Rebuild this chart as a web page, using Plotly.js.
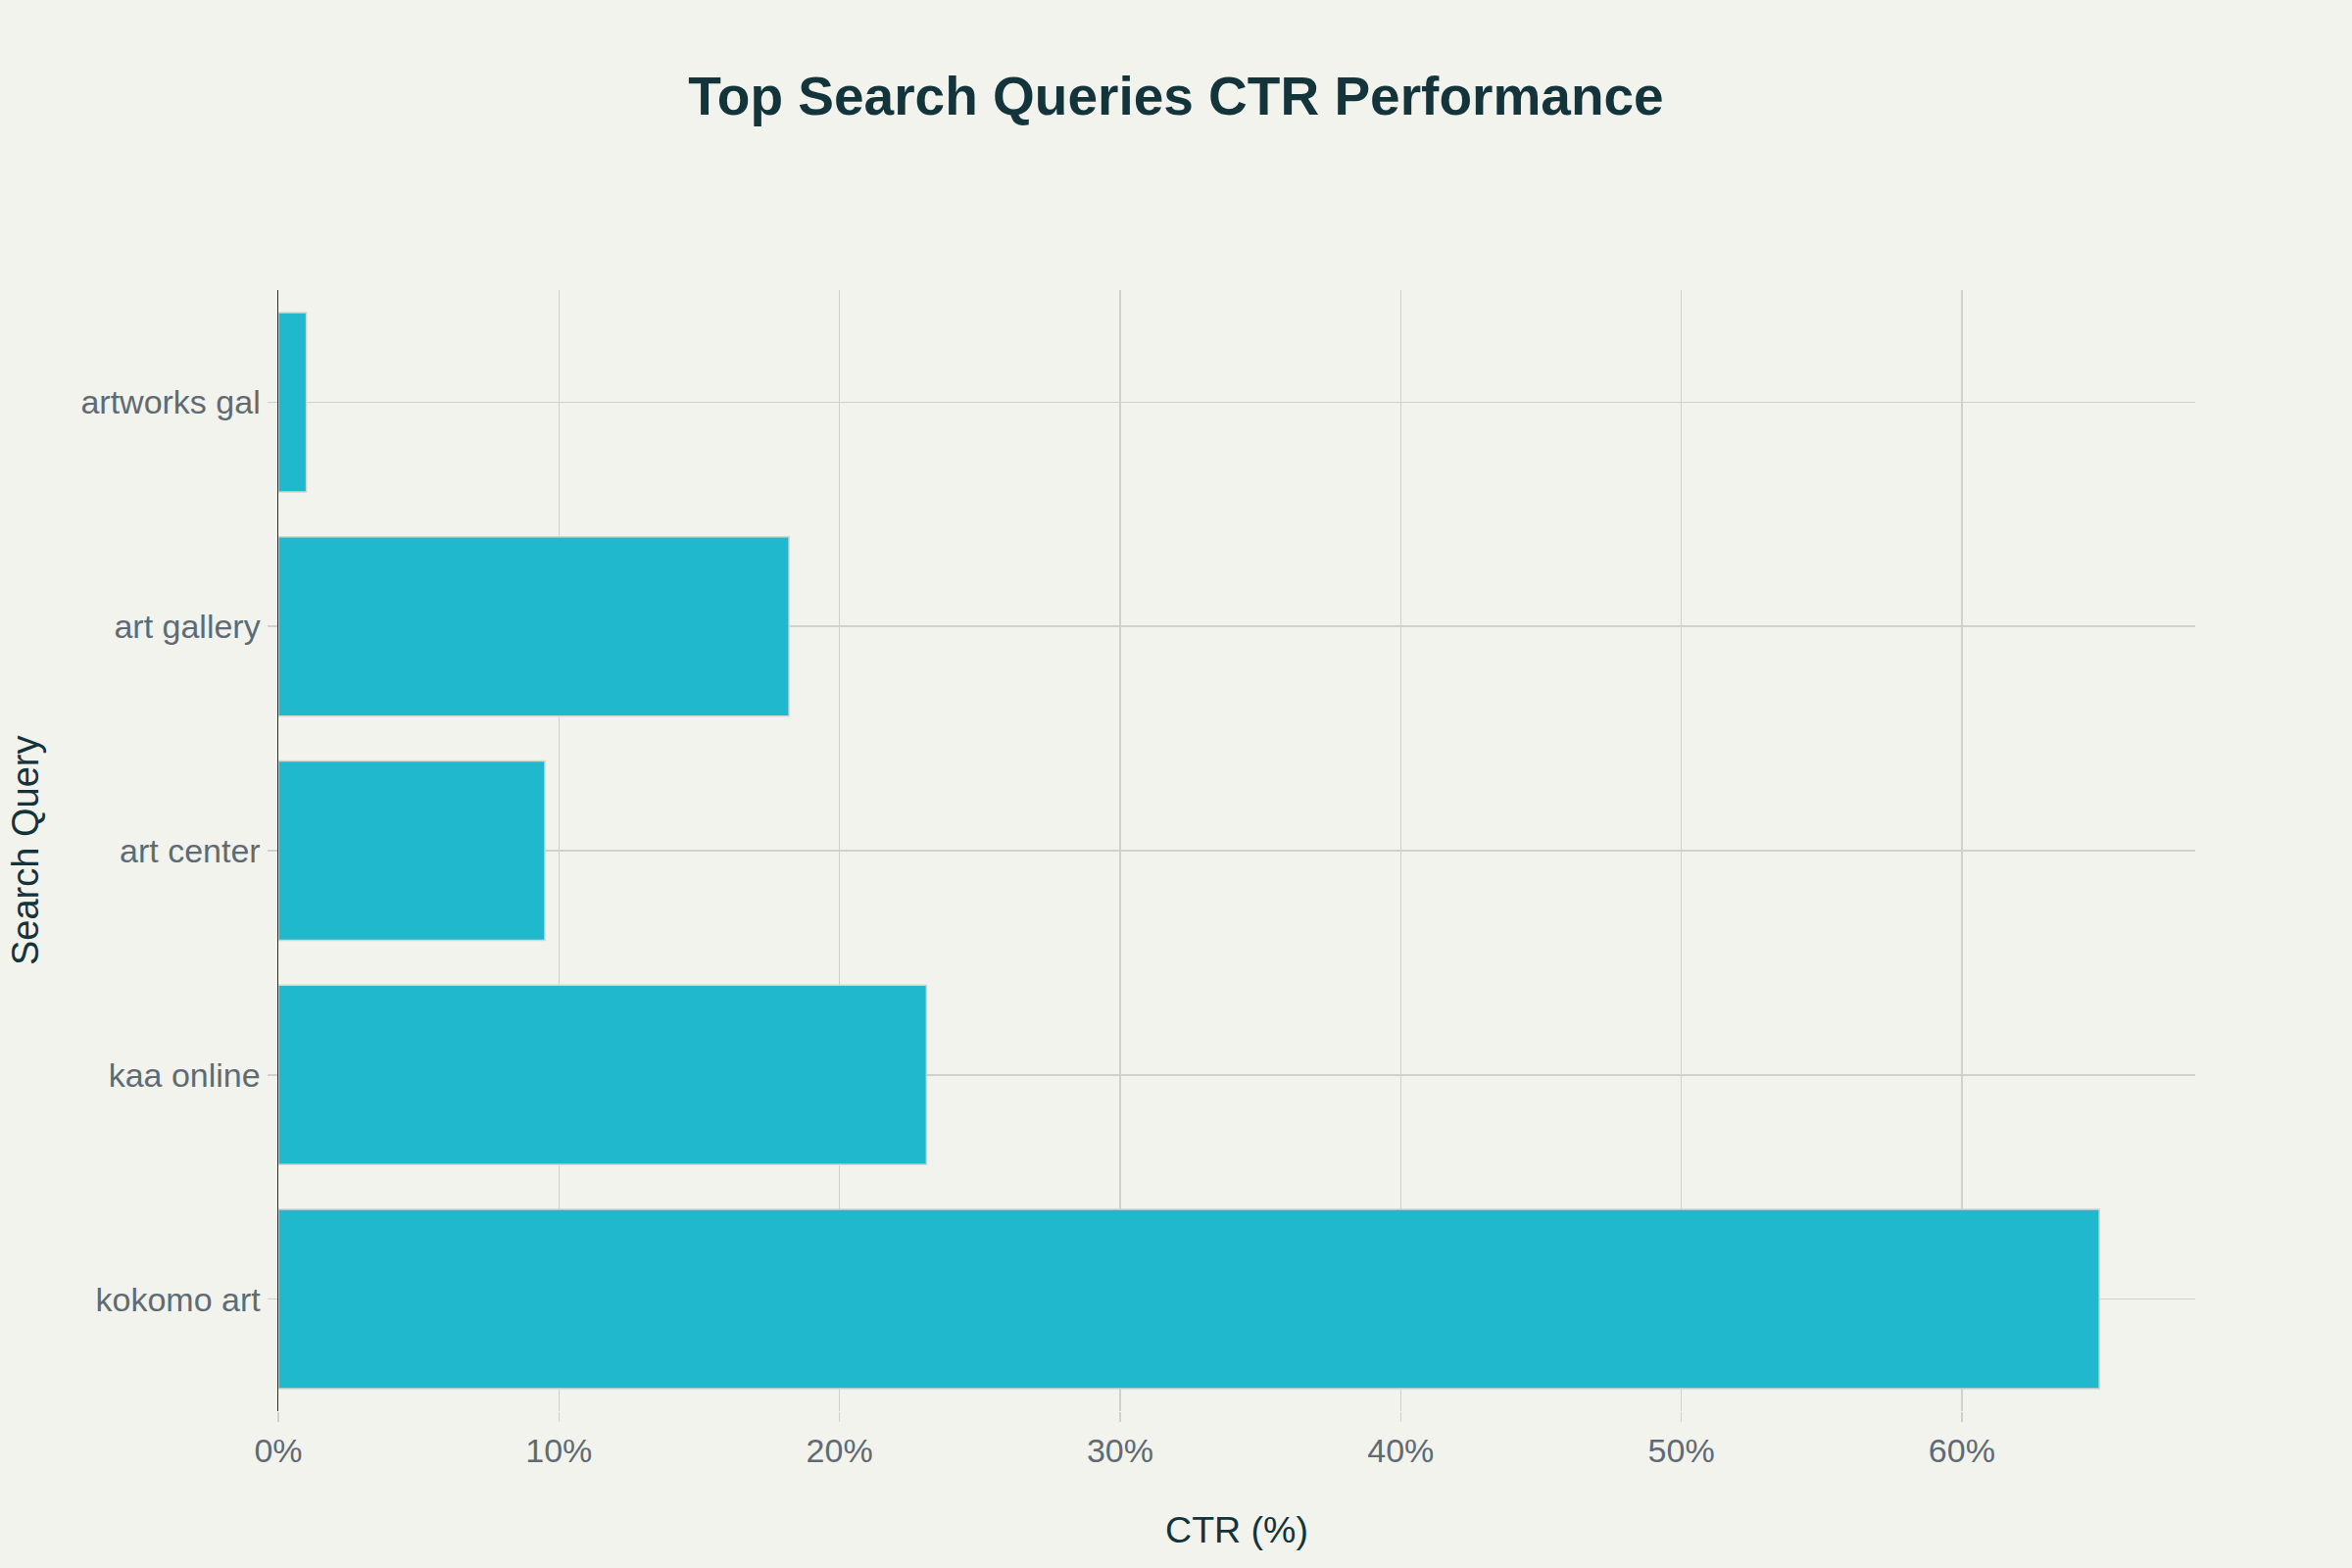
<!DOCTYPE html>
<html>
<head>
<meta charset="utf-8">
<script src="https://cdn.plot.ly/plotly-3.0.1.min.js"></script>
<style>
  html, body { margin: 0; padding: 0; background: #F3F3EE; }
  #chart { width: 2400px; height: 1600px; }
</style>
</head>
<body>
<div id="chart"></div>
<script>
// Data (bottom to top)
const queries = ["kokomo art", "kaa online", "art center", "art gallery", "artworks gal"];
const ctrValues = [64.9, 23.1, 9.5, 18.2, 1.0];

const chartTitle = "Top Search Queries CTR Performance";
const xTitle = "CTR (%)";
const yTitle = "Search Query";

const fontFamily = '"Liberation Sans", Arial, Helvetica, sans-serif';

const trace = {
  type: "bar",
  orientation: "h",
  x: ctrValues,
  y: queries,
  marker: {
    color: "#1FB8CD",
    line: { color: "#D5D5CF", width: 1.5 }
  },
  width: 0.8,
  hoverinfo: "x+y"
};

const layout = {
  width: 2400,
  height: 1600,
  paper_bgcolor: "#F3F3EE",
  plot_bgcolor: "#F3F3EE",
  margin: { l: 284, r: 160, t: 296, b: 160, pad: 0 },
  showlegend: false,
  font: { family: fontFamily, size: 34, color: "#5F6B73" },
  title: {
    text: "<b>" + chartTitle + "</b>",
    font: { family: fontFamily, size: 55, color: "#13343B" },
    x: 0.5,
    xanchor: "center",
    xref: "container",
    y: 1 - 98 / 1600,
    yanchor: "middle",
    yref: "container"
  },
  xaxis: {
    title: { text: xTitle, font: { family: fontFamily, size: 37.5, color: "#13343B" }, standoff: 49 },
    ticksuffix: "%",
    dtick: 10,
    tick0: 0,
    showgrid: true,
    gridcolor: "#D2D0CB",
    gridwidth: 1.5,
    zeroline: false,
    showline: false,
    ticks: "outside",
    ticklen: 10,
    tickwidth: 1.5,
    tickcolor: "#D2D0CB",
    tickfont: { family: fontFamily, size: 34, color: "#5F6B73" },
    automargin: false,
    rangemode: "tozero"
  },
  yaxis: {
    showgrid: true,
    gridcolor: "#D2D0CB",
    gridwidth: 1.5,
    showline: true,
    linecolor: "#2B2B2B",
    linewidth: 1.5,
    ticks: "outside",
    ticklen: 10,
    tickwidth: 1.5,
    tickcolor: "#D2D0CB",
    tickfont: { family: fontFamily, size: 34, color: "#5F6B73" },
    automargin: false
  },
  annotations: [{
    text: yTitle,
    textangle: -90,
    xref: "paper",
    yref: "paper",
    x: (26 - 284) / 1956,
    y: 0.5,
    xanchor: "center",
    yanchor: "middle",
    showarrow: false,
    font: { family: fontFamily, size: 38, color: "#13343B" }
  }]
};

Plotly.newPlot("chart", [trace], layout, { displayModeBar: false, staticPlot: true });
</script>
</body>
</html>
